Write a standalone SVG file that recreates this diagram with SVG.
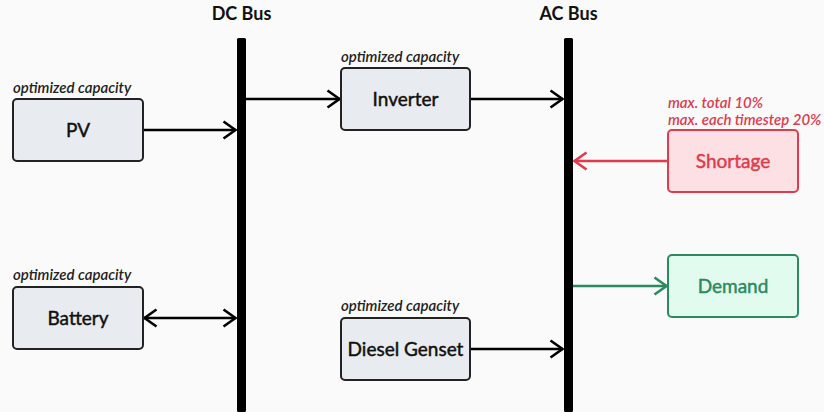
<svg xmlns="http://www.w3.org/2000/svg" width="824" height="412" viewBox="0 0 824 412">
  <defs>
    <style>
      text { font-family: Lato, "Open Sans", "Liberation Sans", sans-serif; }
      .bus-title { font-size: 18px; font-weight: bold; fill: #111; text-anchor: middle; }
      .note { font-size: 15px; font-style: italic; font-weight: 600; fill: #222; }
      .note-red { font-size: 15px; font-style: italic; font-weight: 600; fill: #e03a4c; }
      .node { fill: #e8ebef; stroke: #222; stroke-width: 2; }
      .node-red { fill: #fde0e3; stroke: #e03a4c; stroke-width: 2; }
      .node-green { fill: #e2fbef; stroke: #2b8a5e; stroke-width: 2; }
      .label { font-size: 19px; fill: #111; stroke: #111; stroke-width: 0.45; text-anchor: middle; }
      .label-red { font-size: 19px; fill: #e03a4c; stroke: #e03a4c; stroke-width: 0.45; text-anchor: middle; }
      .label-green { font-size: 19px; fill: #2b8a5e; stroke: #2b8a5e; stroke-width: 0.45; text-anchor: middle; }
      .bus { fill: #000; }
      .wire { fill: none; stroke: #000; stroke-width: 2.5; }
      .wire-red { fill: none; stroke: #e03a4c; stroke-width: 2.5; }
      .wire-green { fill: none; stroke: #2b8a5e; stroke-width: 2.5; }
    </style>
    <marker id="head" viewBox="0 0 15 20" refX="14" refY="10" markerWidth="15" markerHeight="20" markerUnits="userSpaceOnUse" orient="auto-start-reverse">
      <path d="M1.5,1.5 L13.5,10 L1.5,18.5" fill="none" stroke="#000" stroke-width="2.6"/>
    </marker>
    <marker id="head-red" viewBox="0 0 15 20" refX="14" refY="10" markerWidth="15" markerHeight="20" markerUnits="userSpaceOnUse" orient="auto">
      <path d="M1.5,1.5 L13.5,10 L1.5,18.5" fill="none" stroke="#e03a4c" stroke-width="2.6"/>
    </marker>
    <marker id="head-green" viewBox="0 0 15 20" refX="14" refY="10" markerWidth="15" markerHeight="20" markerUnits="userSpaceOnUse" orient="auto">
      <path d="M1.5,1.5 L13.5,10 L1.5,18.5" fill="none" stroke="#2b8a5e" stroke-width="2.6"/>
    </marker>
  </defs>

  <rect width="824" height="412" fill="#fafafa"/>

  <!-- buses -->
  <g id="dc-bus">
    <text class="bus-title" x="241.5" y="20">DC Bus</text>
    <rect class="bus" x="237" y="38" width="9" height="374" rx="1.5"/>
  </g>
  <g id="ac-bus">
    <text class="bus-title" x="568.5" y="20">AC Bus</text>
    <rect class="bus" x="564" y="38" width="9" height="374" rx="1.5"/>
  </g>

  <!-- connectors -->
  <g id="connectors">
    <line class="wire" x1="144" y1="130" x2="236" y2="130" marker-end="url(#head)"/>
    <line class="wire" x1="246" y1="99" x2="340" y2="99" marker-end="url(#head)"/>
    <line class="wire" x1="471" y1="99" x2="563" y2="99" marker-end="url(#head)"/>
    <line class="wire" x1="144" y1="318" x2="236" y2="318" marker-start="url(#head)" marker-end="url(#head)"/>
    <line class="wire" x1="471" y1="349" x2="563" y2="349" marker-end="url(#head)"/>
    <line class="wire-red" x1="667" y1="161" x2="574" y2="161" marker-end="url(#head-red)"/>
    <line class="wire-green" x1="573" y1="286" x2="667" y2="286" marker-end="url(#head-green)"/>
  </g>

  <!-- nodes -->
  <g id="pv">
    <text class="note" x="13" y="93">optimized capacity</text>
    <rect class="node" x="13" y="99" width="130" height="62" rx="4"/>
    <text class="label" x="78" y="137">PV</text>
  </g>
  <g id="battery">
    <text class="note" x="13" y="280">optimized capacity</text>
    <rect class="node" x="13" y="287" width="130" height="62" rx="4"/>
    <text class="label" x="78" y="325">Battery</text>
  </g>
  <g id="inverter">
    <text class="note" x="341" y="62">optimized capacity</text>
    <rect class="node" x="341" y="68" width="129" height="62" rx="4"/>
    <text class="label" x="405.5" y="106">Inverter</text>
  </g>
  <g id="diesel-genset">
    <text class="note" x="341" y="311">optimized capacity</text>
    <rect class="node" x="341" y="318" width="129" height="62" rx="4"/>
    <text class="label" x="405.5" y="356">Diesel Genset</text>
  </g>
  <g id="shortage">
    <text class="note-red" x="668" y="108">max. total 10%</text>
    <text class="note-red" x="668" y="125">max. each timestep 20%</text>
    <rect class="node-red" x="668" y="130" width="130" height="62" rx="4"/>
    <text class="label-red" x="733" y="168">Shortage</text>
  </g>
  <g id="demand">
    <rect class="node-green" x="668" y="255" width="130" height="62" rx="4"/>
    <text class="label-green" x="733" y="293">Demand</text>
  </g>
</svg>
